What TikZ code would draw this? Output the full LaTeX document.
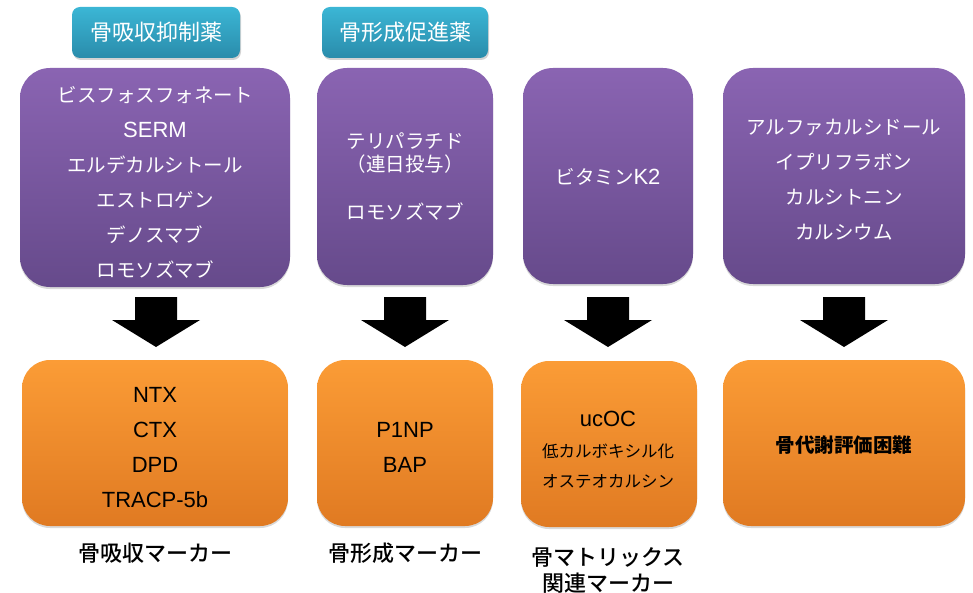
\documentclass[tikz,border=0pt]{standalone}
\usepackage{fontspec}
\setmainfont{Noto Sans CJK JP}
\newfontfamily\latf{Liberation Sans}
\newfontfamily\medf{Noto Sans CJK JP Medium}
\newcommand{\lt}[1]{{\latf\fontsize{22}{35}\selectfont #1}}
\usetikzlibrary{shadows}
\definecolor{tealtop}{HTML}{3BB6D5}
\definecolor{tealbot}{HTML}{2A8CAB}
\definecolor{purtop}{HTML}{8A64B2}
\definecolor{purbot}{HTML}{664A8B}
\definecolor{orgtop}{HTML}{FB9C36}
\definecolor{orgbot}{HTML}{E07A22}
\tikzset{
  tagbox/.style={rounded corners=8pt, top color=tealtop, bottom color=tealbot, inner sep=0pt,
    drop shadow={opacity=0.35, shadow xshift=1pt, shadow yshift=-2pt},
    text=white, font=\fontsize{22}{26}\selectfont},
  purbox/.style={rounded corners=30pt, top color=purtop, bottom color=purbot, inner sep=0pt,
    drop shadow={opacity=0.3, shadow xshift=0pt, shadow yshift=-2pt}},
  orgbox/.style={rounded corners=28pt, top color=orgtop, bottom color=orgbot, inner sep=0pt,
    drop shadow={opacity=0.3, shadow xshift=0pt, shadow yshift=-2pt}},
  wtext/.style={text=white, align=center, inner sep=0pt, font=\fontsize{19.5}{35}\selectfont},
  btext/.style={text=black, align=center, inner sep=0pt, font=\fontsize{19.5}{35}\selectfont},
  lbl/.style={text=black, align=center, inner sep=0pt, font=\medf\fontsize{22}{26}\selectfont},
  blockarrow/.style={fill=black, draw=none}
}
\begin{document}
\begin{tikzpicture}[x=1pt,y=-1pt]
\useasboundingbox (0,0) rectangle (973,593);
% tags
\node[tagbox, minimum width=168pt, minimum height=51pt] (t1) at (156,32.5) {骨吸収抑制薬};
\node[tagbox, minimum width=166pt, minimum height=51pt] (t2) at (405,32.5) {骨形成促進薬};
% purple boxes
\node[purbox, minimum width=270pt, minimum height=219pt] (p1) at (155,177.5) {};
\node[purbox, minimum width=176pt, minimum height=217pt] (p2) at (405,176.5) {};
\node[purbox, minimum width=170pt, minimum height=216pt] (p3) at (608,176) {};
\node[purbox, minimum width=242pt, minimum height=216pt] (p4) at (844,176) {};
\node[wtext] (p1t) at (155,182.5) {ビスフォスフォネート\\\lt{SERM}\\エルデカルシトール\\エストロゲン\\デノスマブ\\ロモソズマブ};
\node[wtext, font=\fontsize{19.5}{23}\selectfont] (p2t) at (405,153.5) {テリパラチド\\（連日投与）};
\node[wtext] (p2u) at (405,212) {ロモソズマブ};
\node[wtext] (p3t) at (608,177) {ビタミン\lt{K2}};
\node[wtext] (p4t) at (844,179.5) {アルファカルシドール\\イプリフラボン\\カルシトニン\\カルシウム};
% orange boxes
\node[orgbox, minimum width=266pt, minimum height=166pt] (o1) at (155,443) {};
\node[orgbox, minimum width=176pt, minimum height=166pt] (o2) at (405,443) {};
\node[orgbox, minimum width=176pt, minimum height=166pt] (o3) at (609,444) {};
\node[orgbox, minimum width=242pt, minimum height=166pt] (o4) at (844,443) {};
\node[btext] (o1t) at (155,448) {\lt{NTX}\\\lt{CTX}\\\lt{DPD}\\\lt{TRACP-5b}};
\node[btext] (o2t) at (405,447.5) {\lt{P1NP}\\\lt{BAP}};
\node[btext] (o3t) at (608,419) {\lt{ucOC}};
\node[btext, font=\fontsize{16.5}{30}\selectfont] (o3u) at (608,466) {低カルボキシル化\\オステオカルシン};
\node[btext, font=\fontsize{19.5}{24}\selectfont\bfseries] (o4t) at (844,445) {骨代謝評価困難};
% block arrows
\foreach \cx/\nm in {156/a1,405/a2,608/a3,844/a4}{
  \fill[blockarrow] (\cx-21,297) -- (\cx+21,297) -- (\cx+21,320) -- (\cx+44,320)
     -- (\cx,347) -- (\cx-44,320) -- (\cx-21,320) -- cycle;
}
% labels
\node[lbl] (l1) at (155,553) {骨吸収マーカー};
\node[lbl] (l2) at (405,553) {骨形成マーカー};
\node[lbl] (l3) at (608,570) {骨マトリックス\\関連マーカー};
\end{tikzpicture}
\end{document}
